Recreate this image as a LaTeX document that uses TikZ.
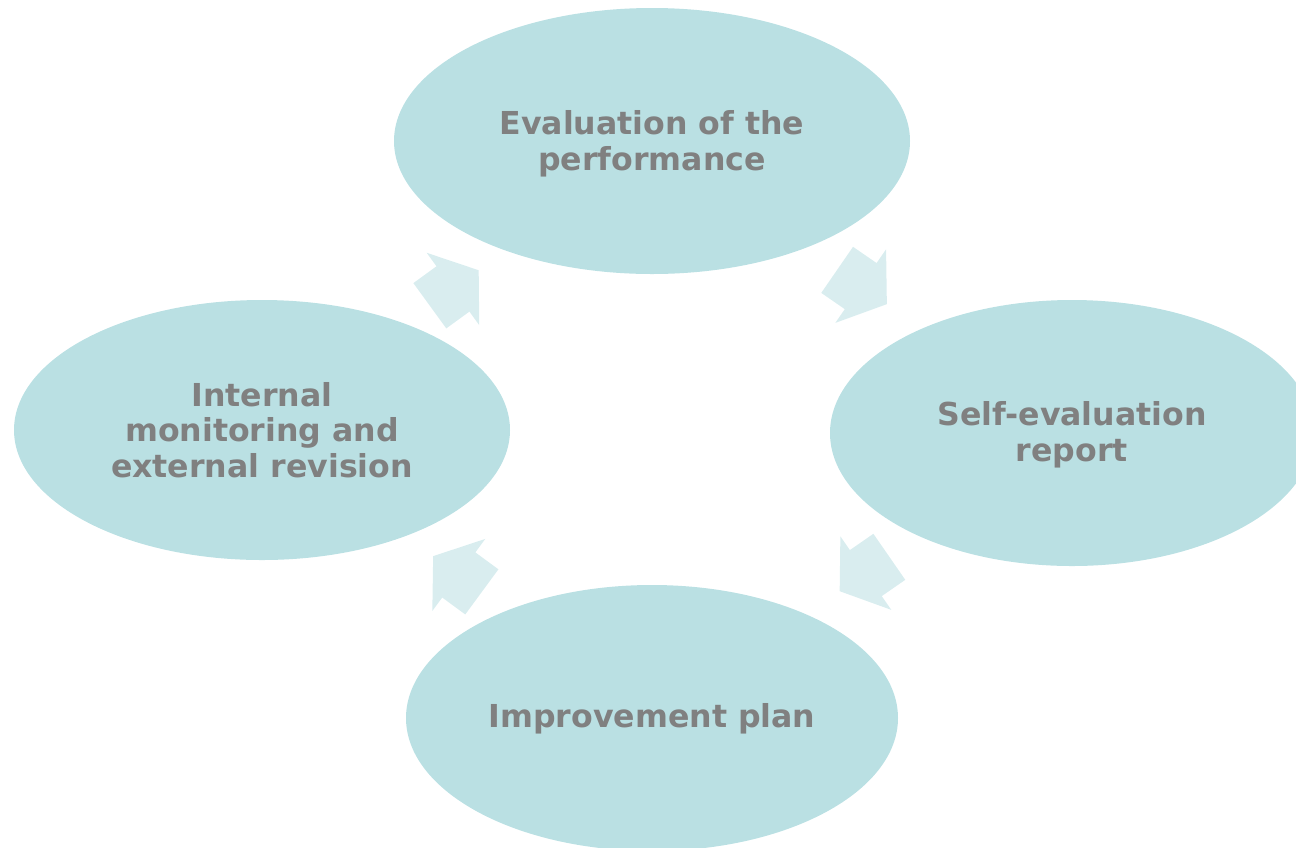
\documentclass[tikz,border=0pt]{standalone}
\usepackage{fontspec}
\setmainfont{DejaVu Sans}
\usetikzlibrary{shapes.geometric}
\definecolor{ellfill}{RGB}{186,224,227}
\definecolor{arrfill}{RGB}{217,237,239}
\definecolor{txtgray}{RGB}{128,128,128}
\tikzset{
  phase/.style={ellipse, fill=ellfill, inner sep=0pt, align=center,
    text=txtgray, font=\fontsize{31.6}{35.5}\selectfont\bfseries},
  blockarrow/.style={fill=arrfill}
}
\newcommand{\cyclearrow}[3]{%
  \fill[blockarrow, shift={(#1,#2)}, rotate=#3]
    (-30.2,-28) -- (-1.6,-28) -- (-1.6,-44.7) -- (30.2,0) -- (-1.6,44.7) -- (-1.6,28) -- (-30.2,28) -- cycle;}
\begin{document}
\begin{tikzpicture}[x=1pt,y=-1pt]
\useasboundingbox (0,0) rectangle (1296,847);
\clip (0,0) rectangle (1296,847);
\node[phase, minimum width=516, minimum height=266] (eval) at (652,141) {};
\node[phase, minimum width=484, minimum height=266] (self) at (1072,433) {};
\node[phase, minimum width=492, minimum height=266] (impr) at (652,718) {};
\node[phase, minimum width=496, minimum height=260] (intl) at (262,430) {};
\node[phase, fill=none] (evalt) at (652,144) {Evaluation of the\\performance};
\node[phase, fill=none] (selft) at (1072,435) {Self-evaluation\\report};
\node[phase, fill=none] (imprt) at (652,719) {Improvement plan};
\node[phase, fill=none] (intlt) at (262,430) {Internal\\monitoring and\\external revision};
\cyclearrow{454.25}{288}{36}
\cyclearrow{862}{287}{-34.6}
\cyclearrow{864.5}{574}{-145.3}
\cyclearrow{457.5}{574}{143.7}
\end{tikzpicture}
\end{document}
